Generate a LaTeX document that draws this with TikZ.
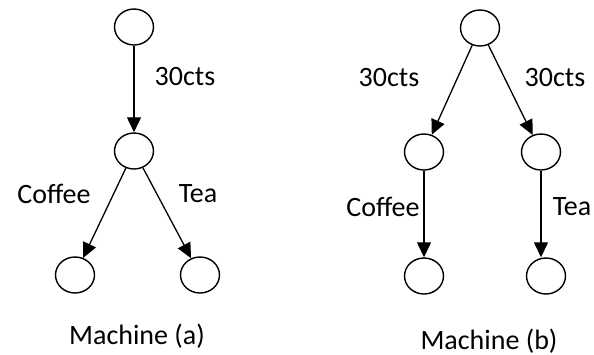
\documentclass[tikz,border=0pt]{standalone}
\usepackage{fontspec}
\setmainfont{Carlito}
\usetikzlibrary{arrows.meta,shapes.geometric}
\tikzset{every node/.style={font=\fontsize{14}{16}\selectfont}}
\tikzset{circ/.style={ellipse,draw,line width=0.7pt,minimum width=19.5pt,minimum height=18pt,inner sep=0pt}}
\tikzset{move/.style={<-,line width=0.65pt,>={Triangle[length=7.5pt,width=7pt]}}}

\begin{document}
\begin{tikzpicture}[node distance=62pt]
\useasboundingbox (0,0) rectangle (297pt,-177pt);

% machine (a)
\node[circ] (topa) at (67pt,-13.5pt) {};
\node[circ] [below of=topa] (mida) {} edge[move] (topa);
\node[circ] [below of=mida,xshift=-29.5pt] (coffeea) {} edge[move] (mida);
\node[circ] [below of=mida,xshift=33pt] (teaa) {} edge[move] (mida);

\node (paya) at (92.5pt,-38.5pt) {30cts};
\node (coffeelabela) at (27pt,-97pt) {Coffee};
\node (tealabela) at (99pt,-97pt) {Tea};
\node (namea) at (68.5pt,-168pt) {Machine (a)};

% machine (b)
\node[circ] (topb) at (240pt,-14pt) {};
\node[circ] [below of=topb,xshift=-28pt] (leftb) {} edge[move] (topb);
\node[circ] [below of=topb,xshift=30.5pt] (rightb) {} edge[move] (topb);
\node[circ] [below of=leftb] (coffeeb) {} edge[move] (leftb);
\node[circ] [below of=rightb,xshift=2.5pt] (teab) {};
\draw[move] (rightb.south |- teab.north) -- (rightb.south);

\node (payleftb) at (194.5pt,-39pt) {30cts};
\node (payrightb) at (277.5pt,-39pt) {30cts};
\node (coffeelabelb) at (191.5pt,-103.5pt) {Coffee};
\node (tealabelb) at (286pt,-103.5pt) {Tea};
\node (nameb) at (244.5pt,-170.5pt) {Machine (b)};

\end{tikzpicture}
\end{document}
